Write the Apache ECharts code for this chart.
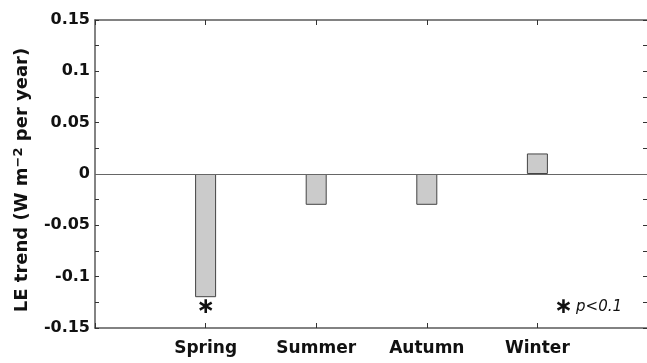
<!DOCTYPE html>
<html>
<head>
<meta charset="utf-8">
<script src="https://cdn.jsdelivr.net/npm/echarts@6/dist/echarts.min.js"></script>
<style>html,body{margin:0;padding:0;background:#fff}#c{width:647px;height:363px}</style>
</head>
<body>
<div id="c"></div>
<script>
var categories = ['Spring', 'Summer', 'Autumn', 'Winter'];
var values = [-0.12, -0.03, -0.03, 0.02];
var significant = [true, false, false, false];
var yTickLabels = ['-0.15', '-0.1', '-0.05', '0', '0.05', '0.1', '0.15'];
var yTickValues = [-0.15, -0.1, -0.05, 0, 0.05, 0.1, 0.15];

var FONT = 'DejaVu Sans';
var AXIS_COLOR = '#5a5a5a';

function yLabel(v) {
  for (var i = 0; i < yTickValues.length; i++) {
    if (Math.abs(yTickValues[i] - v) < 1e-9) return yTickLabels[i];
  }
  return '';
}

var barData = values.map(function (v, i) {
  var d = { value: [i + 1, v] };
  if (significant[i]) {
    d.label = {
      show: true, position: 'bottom', distance: -1, formatter: '\u2217',
      fontFamily: FONT, fontWeight: 'bold', fontSize: 22, color: '#111'
    };
  }
  return d;
});

var chart = echarts.init(document.getElementById('c'), null, { renderer: 'canvas' });
chart.setOption({
  animation: false,
  backgroundColor: '#fff',
  grid: { left: 95, top: 20, right: -1, bottom: 35, containLabel: false, outerBoundsMode: 'none' },
  xAxis: [{
    type: 'value', position: 'bottom', min: 0, max: 5, interval: 1,
    axisLine: { show: true, onZero: false, lineStyle: { color: AXIS_COLOR, width: 1.5 } },
    axisTick: { show: true, inside: true, length: 5, lineStyle: { color: '#333' } },
    axisLabel: {
      margin: 12, fontFamily: FONT, fontWeight: 'bold', fontSize: 17, color: '#111',
      formatter: function (v) { return categories[Math.round(v) - 1] || ''; }
    },
    splitLine: { show: false }
  }, {
    type: 'value', position: 'top', min: 0, max: 5, interval: 1,
    axisLine: { show: true, onZero: false, lineStyle: { color: AXIS_COLOR, width: 1.5 } },
    axisTick: { show: true, inside: true, length: 5, lineStyle: { color: '#333' } },
    axisLabel: { show: false },
    splitLine: { show: false }
  }],
  yAxis: [{
    type: 'value', position: 'left', min: -0.15, max: 0.15, interval: 0.05,
    name: 'LE trend (W m{sup|\u22122} per year)',
    nameLocation: 'middle', nameGap: 62, nameRotate: 90,
    nameTextStyle: {
      fontFamily: FONT, fontWeight: 'bold', fontSize: 18, color: '#111',
      padding: [0, 12, 0, 0],
      rich: { sup: { fontFamily: FONT, fontWeight: 'bold', fontSize: 13, color: '#111', verticalAlign: 'top', padding: [0, 0, 8, 0] } }
    },
    axisLine: { show: true, onZero: false, lineStyle: { color: AXIS_COLOR, width: 1.5 } },
    axisTick: { show: true, inside: true, length: 4, lineStyle: { color: '#333' } },
    minorTick: { show: true, splitNumber: 2, length: 4, lineStyle: { color: '#333' } },
    axisLabel: { margin: 5, fontFamily: FONT, fontWeight: 'bold', fontSize: 16, color: '#111', formatter: yLabel },
    splitLine: { show: false }
  }, {
    type: 'value', position: 'right', min: -0.15, max: 0.15, interval: 0.05,
    axisLine: { show: true, onZero: false, lineStyle: { color: AXIS_COLOR, width: 1.5 } },
    axisTick: { show: true, inside: true, length: 5, lineStyle: { color: '#333' } },
    minorTick: { show: true, splitNumber: 2, length: 5, lineStyle: { color: '#333' } },
    axisLabel: { show: false },
    splitLine: { show: false }
  }],
  series: [{
    type: 'bar', xAxisIndex: 0, yAxisIndex: 0,
    barWidth: 21,
    data: barData,
    itemStyle: { color: '#cbcbcb', borderColor: '#444', borderWidth: 1 },
    markLine: {
      silent: true, symbol: 'none', label: { show: false },
      lineStyle: { color: '#666', width: 1.2, type: 'solid' },
      data: [{ yAxis: 0 }]
    },
    z: 3
  }],
  graphic: [{
    type: 'text', right: 25, top: 296,
    style: {
      text: '{a|\u2217} {b|p<0.1}',
      rich: {
        a: { fontFamily: FONT, fontWeight: 'bold', fontSize: 22, fill: '#111' },
        b: { fontFamily: FONT, fontStyle: 'italic', fontSize: 15, fill: '#111' }
      }
    }
  }]
});
</script>
</body>
</html>
